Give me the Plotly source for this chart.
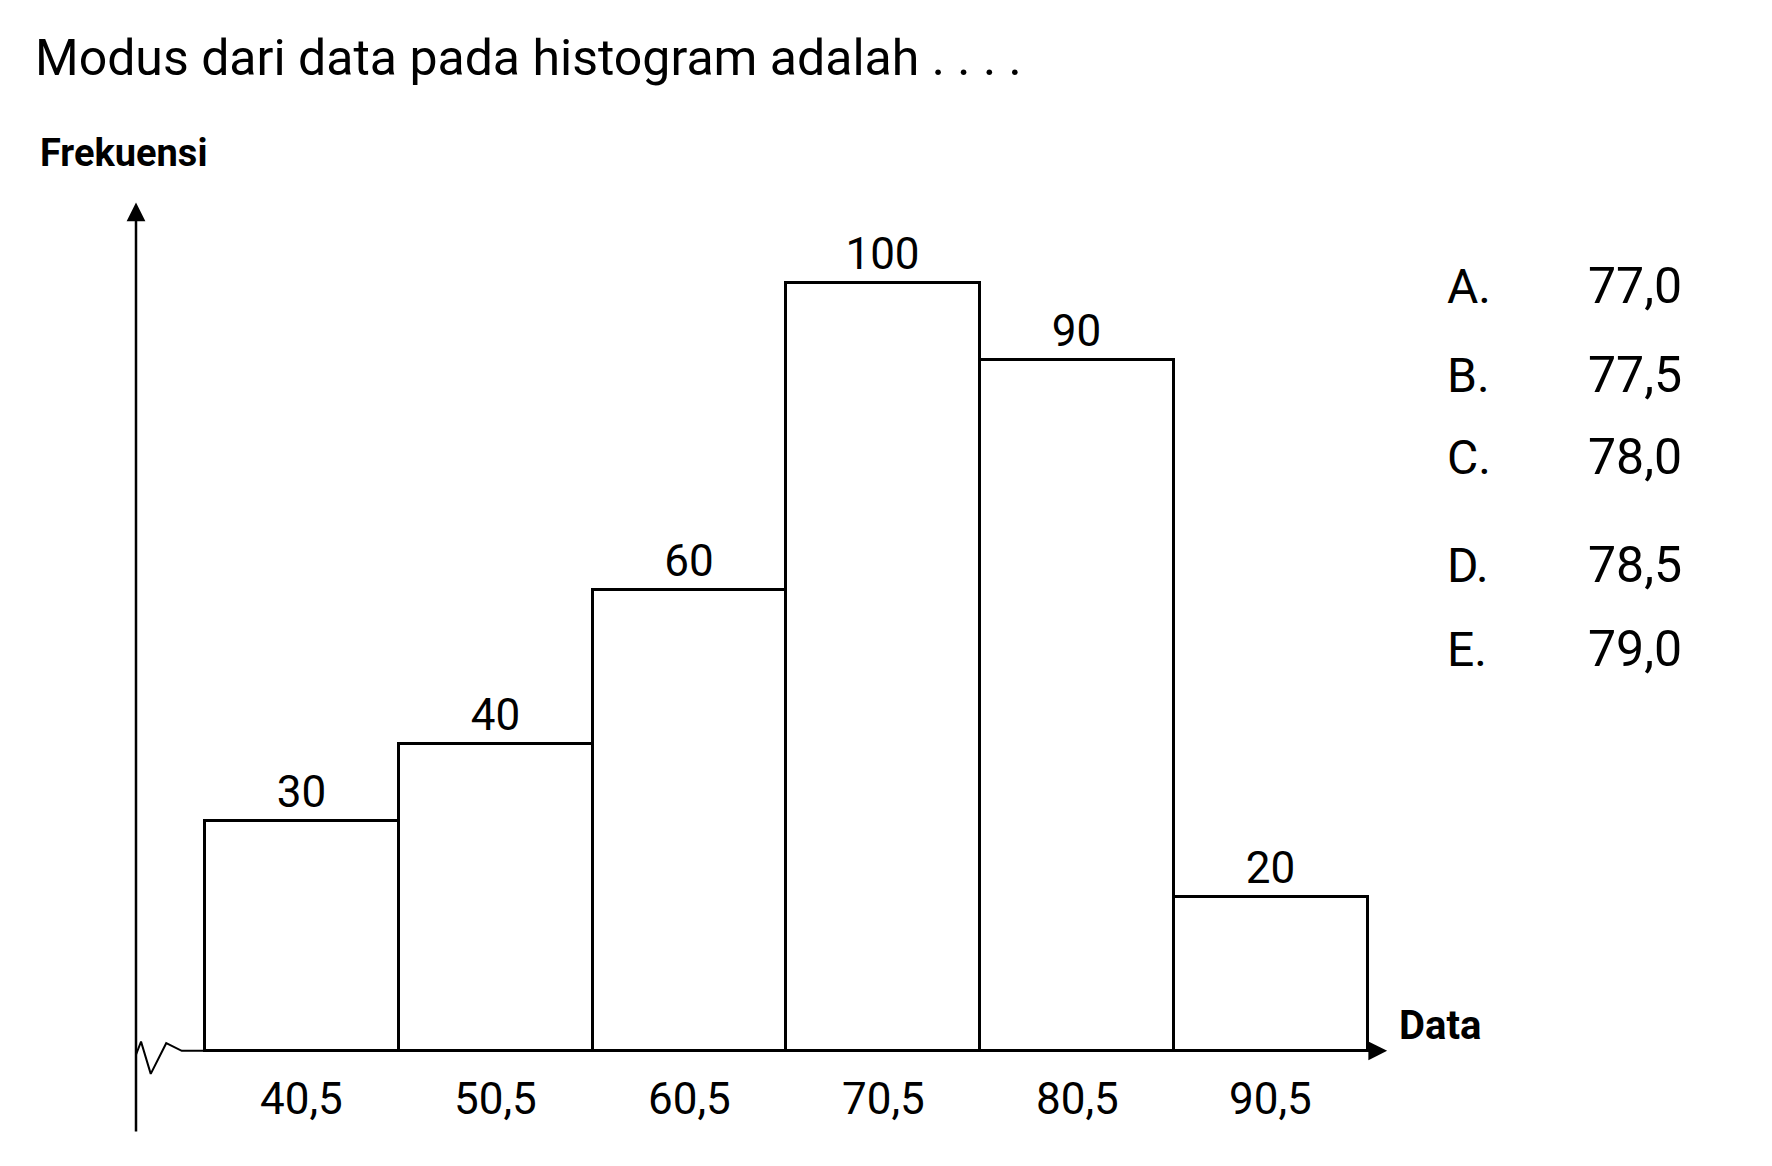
import plotly.graph_objects as go

labels = ["40,5", "50,5", "60,5", "70,5", "80,5", "90,5"]
freq = [30, 40, 60, 100, 90, 20]
options = ["A.", "B.", "C.", "D.", "E."]
option_vals = ["77,0", "77,5", "78,0", "78,5", "79,0"]

W, H = 1772, 1166
FONT = "Liberation Sans Narrow, Roboto, Liberation Sans"
xs = [i + 0.5 for i in range(len(freq))]

fig = go.Figure()
fig.add_trace(go.Bar(x=xs, y=freq, width=1, marker=dict(color="white", line=dict(color="black", width=3)),
                     text=[str(v) for v in freq], textposition="outside", cliponaxis=False,
                     textfont=dict(size=44, color="black", family=FONT)))
fig.add_trace(go.Scatter(x=[-0.356, -0.33, -0.28, -0.2, -0.12, 0], y=[-0.5, 1.2, -3, 1, 0, 0],
                         mode="lines", line=dict(color="black", width=2), hoverinfo="skip"))

ann = []
for x, lab in zip(xs, labels):
    ann.append(dict(x=x, y=-6.3, text=lab, showarrow=False, font=dict(size=44, family=FONT, color="black")))
ann.append(dict(x=-0.356, y=110.5, ax=-0.356, ay=-10.7, xref="x", yref="y", axref="x", ayref="y",
                showarrow=True, arrowhead=2, arrowsize=1.5, arrowwidth=2.5, arrowcolor="black", text=""))
ann.append(dict(x=6.1, y=0, ax=0, ay=0, xref="x", yref="y", axref="x", ayref="y",
                showarrow=True, arrowhead=2, arrowsize=1.5, arrowwidth=2.5, arrowcolor="black", text=""))
ann.append(dict(x=6.15, y=0, text="<b>Data</b>", xanchor="left", yanchor="bottom", showarrow=False,
                font=dict(size=40, family=FONT, color="black")))
ann.append(dict(x=30, y=145, xref="paper", yref="paper", text="<b>Frekuensi</b>", showarrow=False,
                xanchor="left", yanchor="middle", font=dict(size=38, family=FONT, color="black")))
ann.append(dict(x=25, y=50, xref="paper", yref="paper", text="Modus dari data pada histogram adalah . . . .",
                showarrow=False, xanchor="left", yanchor="middle", font=dict(size=50, family="Roboto", color="black")))
ys = [278, 367, 449, 557, 641]
for o, v, yy in zip(options, option_vals, ys):
    ann.append(dict(x=1437, y=yy, xref="paper", yref="paper", text=o, showarrow=False, xanchor="left",
                    yanchor="middle", font=dict(size=48, family="Roboto", color="black")))
    ann.append(dict(x=1578, y=yy, xref="paper", yref="paper", text=v, showarrow=False, xanchor="left",
                    yanchor="middle", font=dict(size=50, family="Roboto", color="black")))
L, R, T, B = 128, 332, 193, 41
pw, ph = W - L - R, H - T - B
for a in ann:
    if a.get("xref") == "paper":
        a["x"] = (a["x"] - L) / pw
        a["y"] = 1 - (a["y"] - T) / ph
fig.update_layout(annotations=ann)

fig.update_layout(width=W, height=H, margin=dict(l=L, r=R, t=T, b=B), plot_bgcolor="white",
                  paper_bgcolor="white", showlegend=False, bargap=0,
                  xaxis=dict(range=[-0.356, 6.414], visible=False),
                  yaxis=dict(range=[-10.7, 110.7], visible=False))
fig.write_html("out.html")
